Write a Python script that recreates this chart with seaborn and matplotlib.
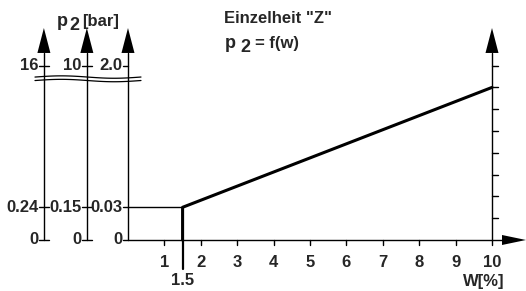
import numpy as np
import seaborn as sns
import matplotlib.pyplot as plt

# curve p2 = f(w), schematic units on the main axis
w_vals = [1.5, 1.5, 10.0]
p_vals = [0.0, 0.03, 0.14]

x_ticks = [1, 2, 3, 4, 5, 6, 7, 8, 9, 10]
x_special = 1.5
right_ticks = [0.02, 0.04, 0.06, 0.08, 0.10, 0.12, 0.14, 0.16]

# the three left scales: position, label at top, label at 0.03 level
scale_x = [-2.31, -1.13, 0.0]
top_labels = ["16", "10", "2.0"]
mid_labels = ["0.24", "0.15", "0.03"]
y_top, y_mid = 0.16, 0.03

sns.set_style("white")
plt.rcParams['font.family'] = ['Liberation Sans', 'DejaVu Sans']
plt.rcParams['font.weight'] = 'bold'

fig = plt.figure(figsize=(5.26, 2.91), dpi=100)
ax = fig.add_axes([0, 0, 1, 1])
ax.set_xlim(-3.516, 10.934)
ax.set_ylim(-0.0468, 0.2202)
ax.axis("off")

px_x = 1 / 36.4   # data units per pixel
px_y = 1 / 1090
lw = 1.0
fs = 12
k = "black"


def up_arrow(x, y0):
    tip, base = 0.1945, 0.1716
    ax.plot([x, x], [y0, base], color=k, lw=lw)
    hw = 6.5 * px_x
    ax.fill([x - hw, x + hw, x], [base, base, tip], color=k, lw=0)


# left scales
for x, tl, ml in zip(scale_x, top_labels, mid_labels):
    up_arrow(x, 0)
    t = 5 * px_x
    right = t if x != 0 else 0
    for yy, lab in [(y_top, tl), (y_mid, ml), (0, "0")]:
        ax.plot([x - t, x + right], [yy, yy], color=k, lw=lw)
        ax.text(x - t - 0.5 * px_x, yy, lab, ha="right", va="center",
                fontsize=fs, fontweight="bold")

# break lines
bx = np.linspace(-2.555, 0.357, 100)
for yb in [0.1495, 0.1463]:
    ax.plot(bx, yb + 1.2 * px_y * np.sin((bx + 2.555) / 2.9 * 2 * np.pi),
            color=k, lw=0.9)

# x axis
ax.plot([0, 10.275], [0, 0], color=k, lw=lw)
hh = 5 * px_y
ax.fill([10.275, 10.275, 10.934], [-hh, hh, 0], color=k, lw=0)
for t in x_ticks:
    ax.plot([t, t], [0, -5 * px_y], color=k, lw=lw)
    ax.text(t, -0.0202, str(t), ha="center", va="center",
            fontsize=fs, fontweight="bold")
ax.plot([x_special, x_special], [0, -0.0266], color=k, lw=1.6)
ax.text(x_special, -0.0376, "1.5", ha="center", va="center",
        fontsize=fs, fontweight="bold")
ax.text(9.78, -0.0385, "W[%]", ha="center", va="center",
        fontsize=fs, fontweight="bold")

# right axis
up_arrow(10, 0)
for t in right_ticks:
    ax.plot([10, 10 + 6 * px_x], [t, t], color=k, lw=lw)

# reference level line and curve
ax.plot([0, x_special], [p_vals[1], p_vals[1]], color=k, lw=lw)
sns.lineplot(x=w_vals, y=p_vals, sort=False, estimator=None,
             color=k, lw=2.2, ax=ax)

# titles
ax.text(-1.95, 0.1963, "p", fontsize=fs + 1, fontweight="bold", va="baseline")
ax.text(-1.62, 0.1931, "2", fontsize=fs + 1, fontweight="bold", va="baseline")
ax.text(-1.264, 0.1963, "[bar]", fontsize=fs, fontweight="bold", va="baseline")

ax.text(2.637, 0.1994, 'Einzelheit "Z"', fontsize=fs, fontweight="bold",
        va="baseline")
ax.text(2.665, 0.176, "p", fontsize=fs + 1, fontweight="bold", va="baseline")
ax.text(3.077, 0.1725, "2", fontsize=fs + 1, fontweight="bold", va="baseline")
ax.text(3.49, 0.176, "= f(w)", fontsize=fs, fontweight="bold", va="baseline")

fig.savefig("out.png", dpi=100)
